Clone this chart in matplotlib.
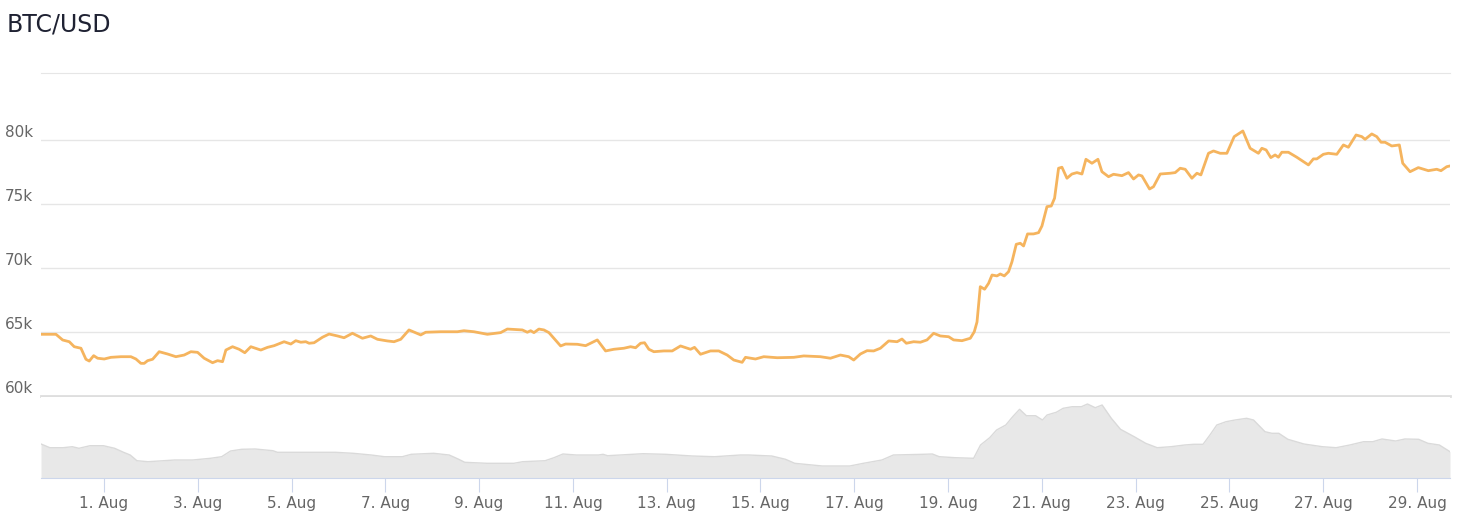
import matplotlib
matplotlib.use("Agg")
import matplotlib.pyplot as plt
import matplotlib.dates as mdates
import pandas as pd

# BTC/USD price (days from 1 Aug 00:00, USD)
price_days = [-1.342, -1.023, -0.880, -0.739, -0.633, -0.490, -0.384, -0.313, -0.219, -0.134,
              0.006, 0.149, 0.362, 0.575, 0.682, 0.788, 0.859, 0.931, 1.038, 1.178,
              1.357, 1.534, 1.711, 1.854, 1.997, 2.137, 2.316, 2.423, 2.529, 2.600,
              2.742, 2.883, 3.004, 3.132, 3.345, 3.488, 3.629, 3.842, 3.985, 4.091,
              4.198, 4.304, 4.375, 4.481, 4.660, 4.801, 4.980, 5.120, 5.299, 5.512,
              5.689, 5.832, 6.045, 6.186, 6.329, 6.505, 6.755, 6.861, 7.181, 7.537,
              7.677, 7.890, 8.176, 8.459, 8.602, 8.922, 9.028, 9.099, 9.169, 9.275,
              9.382, 9.489, 9.595, 9.738, 9.844, 10.094, 10.271, 10.520, 10.697, 10.874,
              11.087, 11.230, 11.337, 11.443, 11.528, 11.620, 11.726, 11.939, 12.118, 12.295,
              12.508, 12.593, 12.721, 12.934, 13.111, 13.290, 13.431, 13.609, 13.680, 13.893,
              14.070, 14.356, 14.709, 14.922, 15.278, 15.491, 15.704, 15.881, 15.988, 16.130,
              16.273, 16.414, 16.557, 16.734, 16.913, 17.017, 17.110, 17.266, 17.409, 17.551,
              17.692, 17.835, 18.012, 18.118, 18.297, 18.474, 18.559, 18.617, 18.687, 18.779,
              18.864, 18.937, 19.043, 19.113, 19.199, 19.290, 19.363, 19.454, 19.540, 19.610,
              19.695, 19.823, 19.930, 20.002, 20.109, 20.200, 20.271, 20.356, 20.428, 20.535,
              20.641, 20.748, 20.855, 20.940, 21.068, 21.196, 21.281, 21.422, 21.528, 21.707,
              21.848, 21.955, 22.061, 22.134, 22.296, 22.381, 22.524, 22.737, 22.843, 22.950,
              23.057, 23.199, 23.306, 23.391, 23.553, 23.660, 23.802, 23.945, 24.101, 24.286,
              24.441, 24.618, 24.691, 24.782, 24.882, 24.974, 25.044, 25.117, 25.257, 25.436,
              25.684, 25.790, 25.863, 26.003, 26.110, 26.289, 26.430, 26.536, 26.700, 26.822,
              26.892, 27.035, 27.141, 27.233, 27.318, 27.461, 27.623, 27.695, 27.851, 28.028,
              28.241, 28.420, 28.511, 28.633, 28.703]
price = [64820, 64820, 64375, 64240, 63850, 63730, 62870, 62730, 63150, 62950,
         62890, 63020, 63070, 63070, 62890, 62550, 62550, 62760, 62870, 63460,
         63280, 63070, 63200, 63460, 63410, 62950, 62600, 62760, 62680, 63590,
         63850, 63650, 63380, 63850, 63590, 63800, 63930, 64240, 64060, 64320,
         64200, 64240, 64120, 64160, 64590, 64840, 64690, 64550, 64900, 64510,
         64690, 64430, 64300, 64240, 64430, 65160, 64770, 64980, 65020, 65020,
         65100, 65020, 64820, 64950, 65230, 65160, 64980, 65100, 64950, 65230,
         65160, 64950, 64510, 63910, 64060, 64040, 63930, 64380, 63520, 63650,
         63730, 63850, 63770, 64120, 64160, 63650, 63460, 63520, 63520, 63910,
         63650, 63800, 63260, 63520, 63520, 63200, 62810, 62630, 63020, 62890,
         63070, 62990, 63020, 63130, 63070, 62950, 63200, 63070, 62810, 63280,
         63540, 63520, 63730, 64300, 64240, 64450, 64120, 64240, 64200, 64380,
         64900, 64690, 64630, 64380, 64320, 64510, 65020, 65780, 68540, 68340,
         68800, 69450, 69380, 69530, 69380, 69710, 70490, 71850, 71930, 71720,
         72660, 72660, 72760, 73280, 74790, 74840, 75450, 77790, 77870, 77010,
         77340, 77450, 77340, 78490, 78180, 78490, 77520, 77130, 77320, 77210,
         77450, 76950, 77270, 77190, 76170, 76350, 77340, 77400, 77450, 77790,
         77710, 77010, 77400, 77270, 78960, 79140, 78960, 78960, 80260, 80700,
         79350, 78960, 79350, 79220, 78620, 78830, 78650, 79040, 79040, 78650,
         78050, 78520, 78520, 78880, 78960, 78880, 79610, 79430, 80390, 80260,
         80050, 80470, 80260, 79820, 79820, 79530, 79610, 78180, 77520, 77840,
         77600, 77710, 77600, 77910, 77970]

# navigator series (relative units)
nav_days = [-1.342, -1.153, -0.867, -0.675, -0.533, -0.296, -0.011, 0.228, 0.418, 0.560,
            0.703, 0.940, 1.511, 1.892, 2.271, 2.510, 2.700, 2.938, 3.224, 3.603,
            3.699, 4.366, 4.935, 5.316, 5.698, 5.983, 6.363, 6.552, 7.030, 7.362,
            7.552, 7.694, 8.170, 8.740, 8.930, 9.408, 9.597, 9.787, 10.072, 10.548,
            10.643, 10.739, 11.500, 11.975, 12.546, 13.021, 13.573, 13.752, 14.240, 14.534,
            14.730, 15.316, 15.904, 16.196, 16.589, 16.834, 17.469, 17.665, 17.812, 18.155,
            18.545, 18.692, 18.888, 19.035, 19.231, 19.378, 19.525, 19.670, 19.866, 20.013,
            20.111, 20.307, 20.454, 20.648, 20.844, 20.972, 21.138, 21.285, 21.481, 21.677,
            21.969, 22.214, 22.459, 22.753, 23.045, 23.241, 23.437, 23.584, 23.731, 23.927,
            24.121, 24.366, 24.513, 24.758, 24.905, 25.052, 25.246, 25.589, 25.981, 26.275,
            26.567, 26.861, 27.057, 27.253, 27.545, 27.741, 28.035, 28.231, 28.476, 28.703]
nav_vals = [34, 30.3, 30.3, 31.3, 29.7, 32.3, 32.3, 29.7, 25.7, 23,
            17.3, 16.3, 18, 18, 19.7, 21.3, 27, 28.7, 29, 27.3,
            25.7, 25.7, 25.7, 24.7, 23, 21.3, 21.3, 23.7, 24.7, 23,
            19, 15.7, 14.7, 14.7, 16.3, 17.3, 20.3, 24, 23, 23,
            23.7, 22.3, 24.3, 23.7, 22, 21.3, 23, 23, 22, 18.7,
            14.7, 12, 12, 14.7, 18, 23, 23.7, 24, 21.3, 20.3,
            19.7, 33, 40.3, 48, 53, 61.3, 68.7, 62.3, 62.3, 58,
            63, 65.7, 69.7, 71.3, 71.3, 74, 70.3, 73, 59.7, 48.7,
            41.3, 34.7, 30.3, 31.3, 33, 33.7, 33.7, 43, 53, 56.3,
            58, 59.7, 58, 46.3, 44.7, 44.7, 38.7, 34, 31.3, 30.3,
            33, 36.3, 36.3, 39, 37, 39, 38.7, 34.7, 33, 26.3]

y_ticks = [60000, 65000, 70000, 75000, 80000]
y_labels = ["60k", "65k", "70k", "75k", "80k"]

base = pd.Timestamp("2024-08-01")
t_price = base + pd.to_timedelta(price_days, unit="D")
t_nav = base + pd.to_timedelta(nav_days, unit="D")
x_ticks = pd.date_range("2024-08-01", "2024-08-29", freq="2D")

label_col = "#666666"
grid_col = "#e6e6e6"
axis_col = "#ccd6eb"

fig = plt.figure(figsize=(14.69, 5.14), dpi=100)
ax = fig.add_axes([41 / 1469, 1 - 396 / 514, 1409 / 1469, 323 / 514])
nav = fig.add_axes([41 / 1469, 1 - 478 / 514, 1409 / 1469, 81 / 514])

# main price line
ax.plot(t_price, price, color="#f5b45e", lw=2.0, solid_joinstyle="round")
ax.set_xlim(t_price[0], t_price[-1])
ax.set_ylim(60000, 85230)
ax.set_yticks(y_ticks)
ax.set_yticklabels(y_labels)
ax.grid(axis="y", color=grid_col, lw=1)
ax.set_axisbelow(True)
ax.tick_params(axis="y", length=0, pad=6, labelsize=11, labelcolor=label_col)
for lbl in ax.get_yticklabels():
    lbl.set_va("bottom")
ax.tick_params(axis="x", bottom=False, labelbottom=False)
for s in ["left", "right"]:
    ax.spines[s].set_visible(False)
ax.spines["top"].set_color(grid_col)
ax.spines["bottom"].set_color("#dedede")
ax.spines["bottom"].set_linewidth(2)

# navigator area
nav.fill_between(t_nav, nav_vals, 0, color="#e8e8e8", lw=0)
nav.plot(t_nav, nav_vals, color="#dadada", lw=1)
nav.set_xlim(t_price[0], t_price[-1])
nav.set_ylim(0, 81)
nav.set_yticks([])
nav.set_xticks(x_ticks)
nav.xaxis.set_major_formatter(mdates.DateFormatter("%-d. %b"))
nav.tick_params(axis="x", length=10, color=axis_col, labelsize=11,
                labelcolor=label_col, pad=3)
for s in ["left", "right", "top"]:
    nav.spines[s].set_visible(False)
nav.spines["bottom"].set_color(axis_col)

fig.text(7 / 1469, 1 - 24 / 514, "BTC/USD", fontsize=17, color="#1f2233",
         ha="left", va="center")

fig.savefig("out.png", dpi=100)
